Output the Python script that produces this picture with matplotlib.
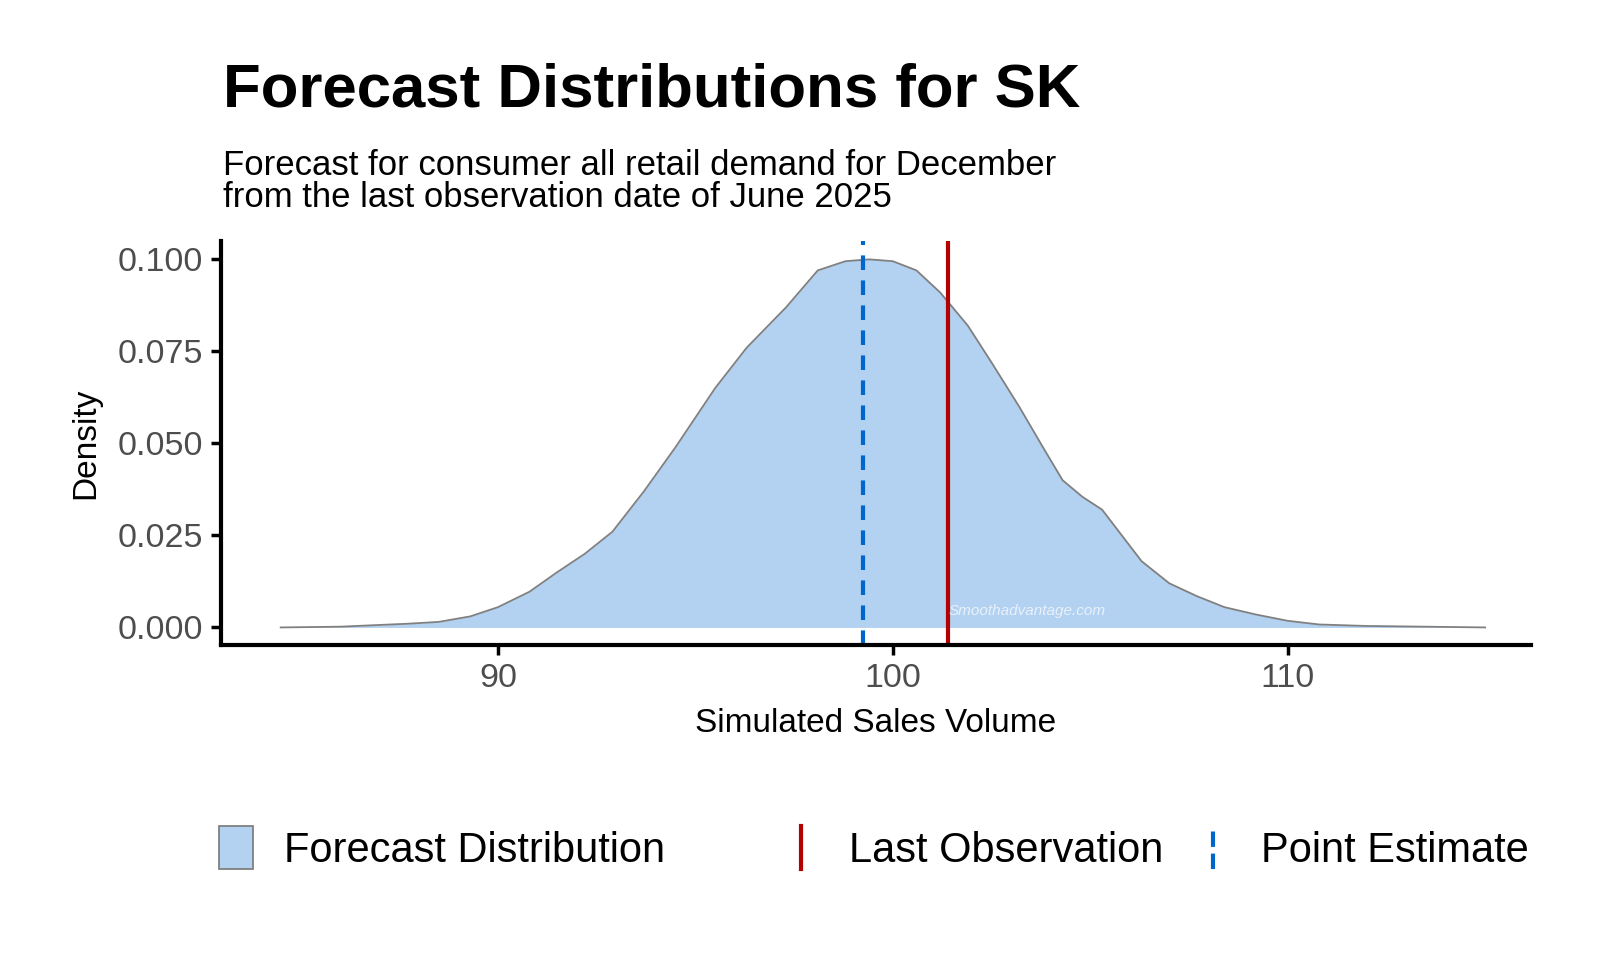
import matplotlib
matplotlib.use("Agg")
import matplotlib.pyplot as plt
from matplotlib.patches import Patch
from matplotlib.lines import Line2D
from matplotlib.legend_handler import HandlerBase

plt.rcParams["font.family"] = "Liberation Sans"

sales_volume = [84.5, 86.0, 87.7, 88.5, 89.3, 90.0, 90.8, 91.5, 92.2, 92.9, 93.7, 94.5,
                95.5, 96.3, 97.3, 98.1, 98.8, 99.4, 100.0, 100.6, 101.2, 101.9, 102.5,
                103.2, 103.8, 104.3, 104.8, 105.3, 105.8, 106.3, 107.0, 107.7, 108.4,
                109.2, 110.0, 110.8, 112.0, 113.5, 115.0]
density = [0.0, 0.0002, 0.001, 0.0015, 0.003, 0.0055, 0.0097, 0.015, 0.020, 0.026, 0.037, 0.049,
           0.065, 0.076, 0.087, 0.097, 0.0995, 0.1, 0.0995, 0.097, 0.091, 0.082, 0.072,
           0.060, 0.049, 0.040, 0.0355, 0.032, 0.025, 0.018, 0.012, 0.0085, 0.0055,
           0.0035, 0.0018, 0.0008, 0.0004, 0.0002, 0.0]
point_estimate = 99.25
last_observation = 101.4
x_ticks = [90, 100, 110]
y_ticks = [0.0, 0.025, 0.05, 0.075, 0.1]
y_tick_labels = ["0.000", "0.025", "0.050", "0.075", "0.100"]
legend_labels = ["Forecast Distribution", "Last Observation", "Point Estimate"]


class VLineHandler(HandlerBase):
    def create_artists(self, legend, orig, xd, yd, width, height, fontsize, trans):
        x = -xd + width / 2
        ln = Line2D([x, x], [-yd, -yd + height], color=orig.get_color(),
                    linewidth=orig.get_linewidth(), linestyle=orig.get_linestyle(), transform=trans)
        return [ln]


fig = plt.figure(figsize=(16, 9.6), dpi=100)
ax = fig.add_axes([0.1384, 0.3284, 0.8182, 0.4206])
ax.fill_between(sales_volume, density, color="#b3d1f0", linewidth=0)
ax.plot(sales_volume, density, color="#808080", linewidth=1.3)
ax.axvline(last_observation, color="#b30000", linewidth=3)
ax.axvline(point_estimate, color="#0066cc", linewidth=3, linestyle=(0, (3.5, 2.5)))
ax.text(103.4, 0.0045, "Smoothadvantage.com", color="white", alpha=0.7, fontsize=11,
        style="italic", ha="center", va="center")

ax.set_xlim(83.0, 116.15)
ax.set_ylim(-0.0047, 0.105)
ax.set_xticks(x_ticks)
ax.set_yticks(y_ticks)
ax.set_yticklabels(y_tick_labels)
for s in ["top", "right"]:
    ax.spines[s].set_visible(False)
for s in ["left", "bottom"]:
    ax.spines[s].set_linewidth(3)
ax.tick_params(axis="both", width=2.5, length=7, labelsize=24.5, labelcolor="#4d4d4d", pad=6)
ax.set_xlabel("Simulated Sales Volume", fontsize=24, labelpad=10)
ax.set_ylabel("Density", fontsize=24, labelpad=12)

fig.text(0.1395, 0.905, "Forecast Distributions for SK", fontsize=44.5, fontweight="bold", va="center")
fig.text(0.1395, 0.811, "Forecast for consumer all retail demand for December\nfrom the last observation date of June 2025",
         fontsize=25, va="center", linespacing=0.95)

handles = [Patch(facecolor="#b3d1f0", edgecolor="#808080", linewidth=1.3),
           Line2D([], [], color="#b30000", linewidth=3),
           Line2D([], [], color="#0066cc", linewidth=3, linestyle=(0, (2.5, 2.0)))]
anchors = [0.137, 0.490, 0.748]
for h, lab, xa in zip(handles, legend_labels, anchors):
    lg = fig.legend([h], [lab], loc="center left", bbox_to_anchor=(xa, 0.116), frameon=False,
                    fontsize=30, handlelength=0.8, handleheight=1.2, handletextpad=0.75,
                    borderpad=0, borderaxespad=0, handler_map={Line2D: VLineHandler()})
fig.savefig("out.png", dpi=100, facecolor="white")
